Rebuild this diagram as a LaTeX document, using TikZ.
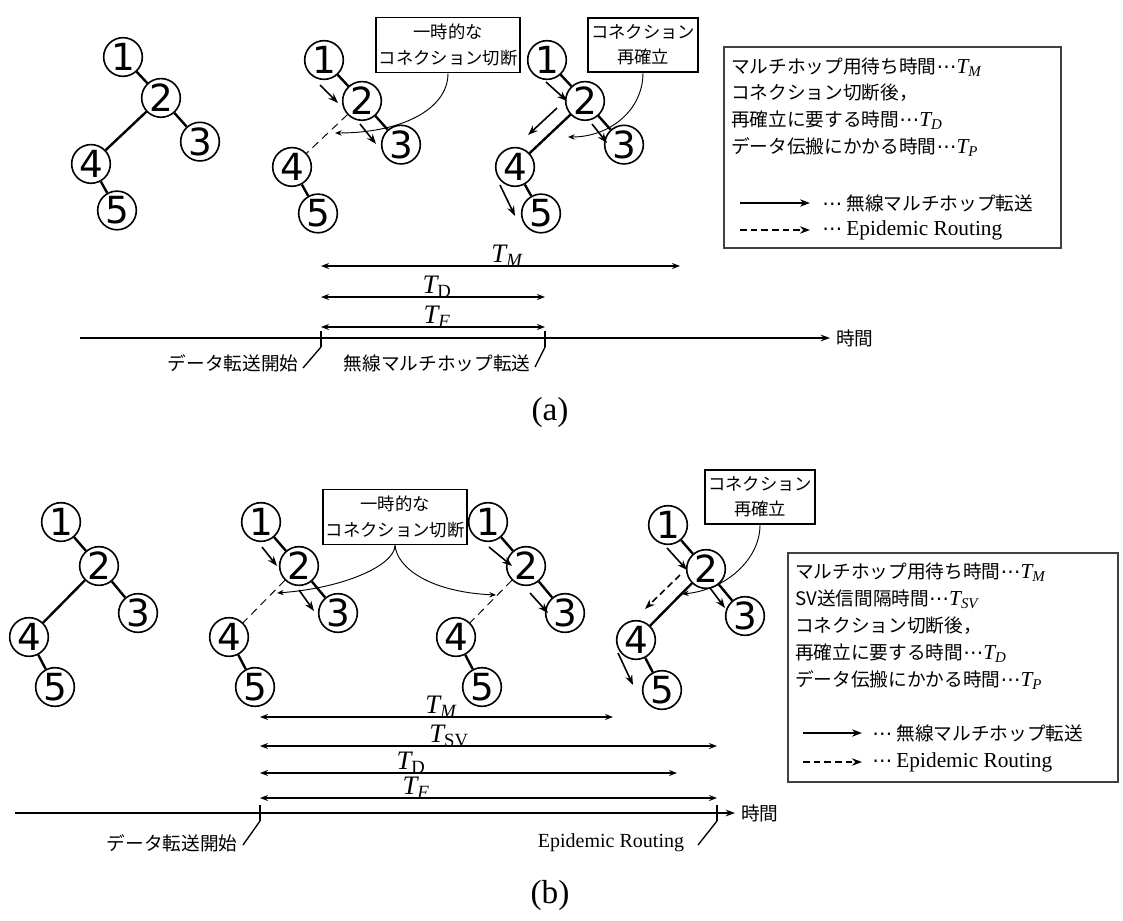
\documentclass[tikz,border=0pt]{standalone}
\usepackage{fontspec}
\setmainfont{Liberation Serif}
\newfontfamily\jpfont{Noto Sans CJK JP}
\newfontfamily\numfont{DejaVu Sans}
\usetikzlibrary{arrows.meta}

\newcommand{\symT}[1]{{\rmfamily\itshape T\textsubscript{#1}}}
\newcommand{\legT}[1]{{\numfont\fontsize{15}{15}\selectfont ⋯}{\rmfamily\fontsize{16}{16}\selectfont\itshape T\textsubscript{#1}}}
\newcommand{\legdots}{{\numfont\fontsize{15}{15}\selectfont ⋯}}

\begin{document}
\begin{tikzpicture}[
  x=0.75pt,
  y=-0.75pt,
  peer/.style={
    circle, draw=black, line width=1.2pt, inner sep=0pt,
    minimum size=29pt, font=\numfont\fontsize{28}{28}\selectfont
  },
  link/.style={
    draw=black, line width=1.8pt
  },
  brokenlink/.style={
    draw=black, line width=0.7pt, dash pattern=on 6pt off 4pt
  },
  hop/.style={
    -{Stealth[length=7.5pt,width=5.5pt]}, line width=1.2pt
  },
  epihop/.style={
    hop, dash pattern=on 5pt off 3pt
  },
  callout/.style={
    draw=black, line width=1.3pt, align=center,
    inner xsep=2pt, inner ysep=5pt,
    font=\jpfont\fontsize{13}{19}\selectfont
  },
  pointer/.style={
    -{Stealth[length=5pt,width=4pt]}, line width=0.7pt
  },
  durspan/.style={
    {Stealth[length=6pt,width=4.5pt]}-{Stealth[length=6pt,width=4.5pt]},
    line width=1.1pt
  },
  durlabel/.style={
    inner sep=0pt, anchor=south, font=\rmfamily\fontsize{20}{20}\selectfont
  },
  timeaxis/.style={
    -{Stealth[length=7pt,width=5pt]}, line width=1.1pt
  },
  tickmark/.style={
    line width=1pt
  },
  eventtext/.style={
    inner sep=0pt, font=\jpfont\fontsize{14}{14}\selectfont
  },
  legbox/.style={
    draw=black!75, line width=0.8pt
  },
  legline/.style={
    anchor=west, inner sep=0pt, font=\jpfont\fontsize{14}{14}\selectfont
  },
  caption/.style={
    inner sep=0pt, font=\fontsize{25}{25}\selectfont
  }
]

\useasboundingbox (0,0) rectangle (1123,920);

\newcommand{\placepeers}[4]{%
  \node[peer] (#1n1) at (#2,#3) {1};
  \node[peer] (#1n2) at ({#2+38},{#3+44*#4}) {2};
  \node[peer] (#1n3) at ({#2+77},{#3+91*#4}) {3};
  \node[peer] (#1n4) at ({#2-32},{#3+115*#4}) {4};
  \node[peer] (#1n5) at ({#2-6},{#3+165*#4}) {5};
}

% (a) three snapshots
\placepeers{a1}{123}{57}{0.93}
\placepeers{a2}{324}{60}{0.93}
\placepeers{a3}{547}{60}{0.93}

% (b) four snapshots
\placepeers{b1}{61}{522}{1}
\placepeers{b2}{261}{522}{1}
\placepeers{b3}{488}{522}{1}
\placepeers{b4}{668}{525}{1}

\foreach \t in {a1,a2,a3,b1,b2,b3,b4} {
  \draw[link] (\t n1) -- (\t n2);
  \draw[link] (\t n2) -- (\t n3);
  \draw[link] (\t n4) -- (\t n5);
}
\foreach \t in {a1,a3,b1,b4}
  \draw[link] (\t n2) -- (\t n4);
\foreach \t in {a2,b2,b3}
  \draw[brokenlink] (\t n2) -- (\t n4);

% forwarding arrows
\draw[hop] (320,85) -- (338,103);
\draw[hop] (360,124) -- (376,144);
\draw[hop] (546,82) -- (567,101);
\draw[hop] (557,108) -- (528,135);
\draw[hop] (592,124) -- (607,143);
\draw[hop] (500,185) -- (515,216);

\draw[hop] (262,547) -- (277,566);
\draw[hop] (299,590) -- (314,611);
\draw[hop] (489,547) -- (512,566);
\draw[hop] (530,593) -- (548,613);
\draw[hop] (667,548) -- (687,570);
\draw[epihop] (680,575) -- (645,609);
\draw[hop] (710,588) -- (725,608);
\draw[hop] (618,653) -- (633,685);

% callouts
\node[callout] (cutA) at (448,45) {一時的な\\コネクション切断};
\node[callout] (backA) at (643,45) {コネクション\\再確立};
\node[callout] (cutB) at (395,517) {一時的な\\コネクション切断};
\node[callout] (backB) at (760,497) {コネクション\\再確立};

\coordinate (cutAend) at (335,133);
\coordinate (backAend) at (568,137);
\coordinate (cutBleft) at (277,593);
\coordinate (cutBright) at (496,595);
\coordinate (backBend) at (682,594);

\draw[pointer] (cutA.south) .. controls (448,110) and (400,133) .. (cutAend);
\draw[pointer] (backA.south) .. controls (643,110) and (610,137) .. (backAend);
\draw[pointer] (cutB.south) .. controls (395,565) and (345,588) .. (cutBleft);
\draw[pointer] (cutB.south) .. controls (397,568) and (430,592) .. (cutBright);
\draw[pointer] (backB.south) .. controls (760,560) and (725,590) .. (backBend);

% legends
\node[legbox, minimum width=252.75pt, minimum height=150.75pt] (legA) at (892.5,147.5) {};
\node[legline] (legA1) at (731,67) {マルチホップ用待ち時間\legT{M}};
\node[legline] (legA2) at (731,93) {コネクション切断後，};
\node[legline] (legA3) at (731,120) {再確立に要する時間\legT{D}};
\node[legline] (legA4) at (731,147) {データ伝搬にかかる時間\legT{P}};
\coordinate (legAs1) at (740,203);
\coordinate (legAe1) at (810,203);
\coordinate (legAs2) at (740,230);
\coordinate (legAe2) at (810,230);
\draw[hop] (legAs1) -- (legAe1);
\draw[epihop] (legAs2) -- (legAe2);
\node[legline] (legA5) at (822,203) {\legdots\ 無線マルチホップ転送};
\node[legline] (legA6) at (822,230) {\legdots\ {\rmfamily\fontsize{16}{16}\selectfont Epidemic Routing}};

\node[legbox, minimum width=247.5pt, minimum height=171.75pt] (legB) at (953,667.5) {};
\node[legline] (legB1) at (795,572) {マルチホップ用待ち時間\legT{M}};
\node[legline] (legB2) at (795,599) {SV送信間隔時間\legT{SV}};
\node[legline] (legB3) at (795,626) {コネクション切断後，};
\node[legline] (legB4) at (795,653) {再確立に要する時間\legT{D}};
\node[legline] (legB5) at (795,680) {データ伝搬にかかる時間\legT{P}};
\coordinate (legBs1) at (803,733);
\coordinate (legBe1) at (862,733);
\coordinate (legBs2) at (803,762);
\coordinate (legBe2) at (862,762);
\draw[hop] (legBs1) -- (legBe1);
\draw[epihop] (legBs2) -- (legBe2);
\node[legline] (legB6) at (872,733) {\legdots\ 無線マルチホップ転送};
\node[legline] (legB7) at (872,762) {\legdots\ {\rmfamily\fontsize{16}{16}\selectfont Epidemic Routing}};

% time line (a)
\coordinate (axAstart) at (80,338);
\coordinate (axAend) at (830,338);
\draw[timeaxis] (axAstart) -- (axAend);
\node[eventtext, anchor=west] (timeA) at (836,338) {時間};
\draw[tickmark] (321,331) -- (321,347);
\draw[tickmark] (545,331) -- (545,347);
\draw[durspan] (321,266) -- (680,266);
\draw[durspan] (321,297) -- (545,297);
\draw[durspan] (321,327) -- (545,327);
\node[durlabel] (tmA) at (507,267) {\symT{M}};
\node[durlabel] (tdA) at (437,298) {\symT{\upshape D}};
\node[durlabel] (tfA) at (437,328) {\symT{F}};
\node[eventtext] (startA) at (233,363) {データ転送開始};
\node[eventtext] (multiA) at (437,363) {無線マルチホップ転送};
\draw[tickmark] (321,347) -- (303,368);
\draw[tickmark] (545,347) -- (535,367);
\node[caption] (capA) at (550,412) {(a)};

% time line (b)
\coordinate (axBstart) at (15,813);
\coordinate (axBend) at (735,813);
\draw[timeaxis] (axBstart) -- (axBend);
\node[eventtext, anchor=west] (timeB) at (741,813) {時間};
\draw[tickmark] (260,805) -- (260,821);
\draw[tickmark] (717,805) -- (717,821);
\draw[durspan] (260,717) -- (613,717);
\draw[durspan] (260,746) -- (717,746);
\draw[durspan] (260,773) -- (677,773);
\draw[durspan] (260,798) -- (717,798);
\node[durlabel] (tmB) at (441,718) {\symT{M}};
\node[durlabel] (tsvB) at (449,747) {\symT{\upshape SV}};
\node[durlabel] (tdB) at (411,774) {\symT{\upshape D}};
\node[durlabel] (tfB) at (416,799) {\symT{F}};
\node[eventtext] (startB) at (172,843) {データ転送開始};
\node[eventtext, font=\rmfamily\fontsize{15}{15}\selectfont] (epiB) at (611,843) {Epidemic Routing};
\draw[tickmark] (260,821) -- (243,845);
\draw[tickmark] (717,821) -- (698,845);
\node[caption] (capB) at (550,895) {(b)};

\end{tikzpicture}
\end{document}
